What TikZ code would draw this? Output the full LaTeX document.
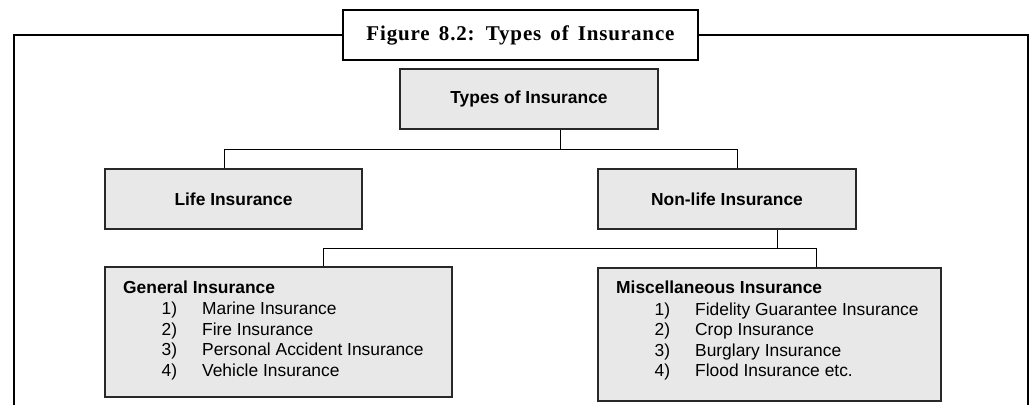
\documentclass[tikz,border=0pt]{standalone}
\usepackage{fontspec}
\setmainfont{Liberation Sans}
\newfontfamily\titlefont[LetterSpace=4,WordSpace=1.5]{Liberation Serif}
\usetikzlibrary{positioning}
\definecolor{boxgray}{RGB}{232,232,232}
\definecolor{edgegray}{RGB}{40,40,40}
\newcommand{\insitem}[2]{\hspace*{38.5pt}#1\hspace{25pt}#2}

\begin{document}
\begin{tikzpicture}[x=1pt,y=-1pt,
  typebox/.style={rectangle,draw=edgegray,fill=boxgray,line width=1.1pt,
    minimum height=60pt,font=\fontsize{17.4}{20}\selectfont\bfseries},
  listbox/.style={rectangle,draw=edgegray,fill=boxgray,line width=1.1pt},
  listtext/.style={anchor=north west,inner sep=0pt,align=left,
    font=\fontsize{17.4}{20.5}\selectfont},
  link/.style={draw=black,line width=0.9pt}]
  \useasboundingbox (0,0) rectangle (1031,405);

  % caption and frame
  \node[rectangle,draw,line width=2pt,fill=white,minimum width=355pt,minimum height=50pt,
    font=\titlefont\bfseries\fontsize{21}{24}\selectfont] (title) at (520.5,35)
    {Figure 8.2: Types of Insurance};
  \draw[line width=2pt] (title.west) -- (14,35) -- (14,405);
  \draw[line width=2pt] (title.east) -- (1028,35) -- (1028,405);

  % boxes
  \node[typebox,minimum width=258pt] (root) at (529,99) {Types of Insurance};
  \node[typebox,minimum width=257pt] (life) at (233.5,199) {Life Insurance};
  \node[typebox,minimum width=258pt] (nonlife) at (727,199) {Non-life Insurance};
  \node[listbox,minimum width=347pt,minimum height=130pt] (general) at (278.5,332) {};
  \node[listbox,minimum width=343pt,minimum height=133pt] (misc) at (769.5,334.5) {};

  \node[listtext] (generallist) at (123,280.5) {
    \textbf{General Insurance}\\[1pt]
    \insitem{1)}{Marine Insurance}\\
    \insitem{2)}{Fire Insurance}\\
    \insitem{3)}{Personal Accident Insurance}\\
    \insitem{4)}{Vehicle Insurance}
  };
  \node[listtext] (misclist) at (616,281) {
    \textbf{Miscellaneous Insurance}\\[1pt]
    \insitem{1)}{Fidelity Guarantee Insurance}\\
    \insitem{2)}{Crop Insurance}\\
    \insitem{3)}{Burglary Insurance}\\
    \insitem{4)}{Flood Insurance etc.}
  };

  % connectors
  \coordinate (hubtop) at (560,149);
  \coordinate (hubnon) at (777,248);
  \draw[link] (root.south -| hubtop) -- (hubtop);
  \draw[link] (life.north -| 224,0) |- (hubtop);
  \draw[link] (nonlife.north -| 737,0) |- (hubtop);
  \draw[link] (nonlife.south -| hubnon) -- (hubnon);
  \draw[link] (general.north -| 323,0) |- (hubnon);
  \draw[link] (misc.north -| 816,0) |- (hubnon);
\end{tikzpicture}
\end{document}
